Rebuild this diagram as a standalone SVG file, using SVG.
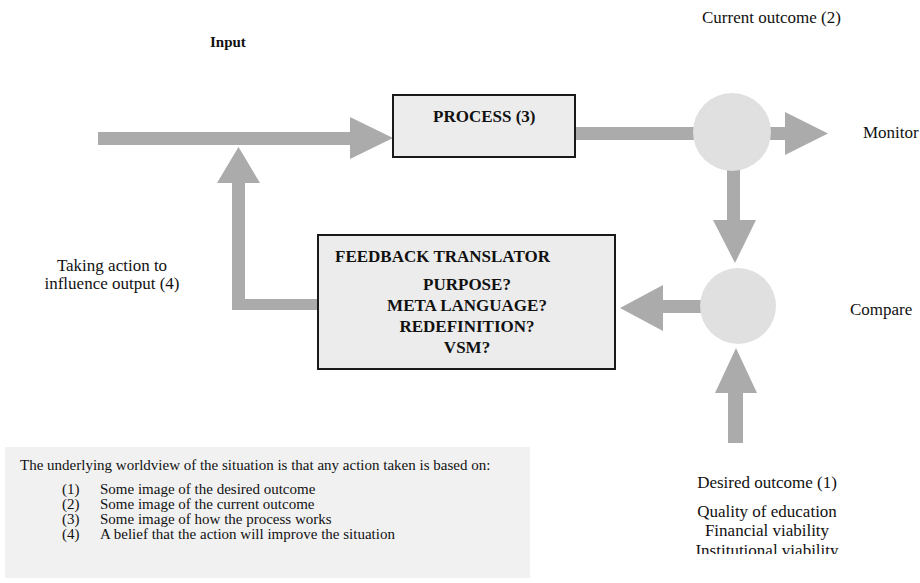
<svg xmlns="http://www.w3.org/2000/svg" width="920" height="583" viewBox="0 0 920 583">
<style>
text { font-family: "Liberation Serif", "Times New Roman", serif; fill: #111; }
.lbl { font-size: 17px; }
.bold { font-weight: bold; }
.note { font-size: 15px; }
.arrow { fill: #ababab; }
.circ { fill: #e0e0e0; }
.box { fill: #ececec; stroke: #1a1a1a; stroke-width: 2; }
</style>
<defs>
<clipPath id="cut"><rect x="600" y="400" width="320" height="154"/></clipPath>
</defs>
<rect x="0" y="0" width="920" height="583" fill="#ffffff"/>

<g id="connectors">
  <polygon class="arrow" points="98,132 350,132 350,117 393,138 350,159 350,145 98,145"/>
  <polygon class="arrow" points="318,299 245,299 245,183 260,183 238.5,147 217,183 232,183 232,310 318,310"/>
  <rect class="arrow" x="575" y="127" width="120" height="13"/>
  <polygon class="arrow" points="770,127 785,127 785,112 828,133.5 785,155 785,140 770,140"/>
  <polygon class="arrow" points="727,169 740,169 740,220 756,220 735,263 713,220 727,220"/>
  <polygon class="arrow" points="702,300 663,300 663,285 620,308 663,331 663,313 702,313"/>
  <polygon class="arrow" points="728,443 743,443 743,393 757,393 736,348 715,393 728,393"/>
</g>

<g id="process">
  <rect class="box" x="393" y="95" width="182" height="62"/>
  <text class="lbl bold" x="433" y="122">PROCESS (3)</text>
</g>

<g id="monitor">
  <circle class="circ" cx="732" cy="132" r="39"/>
</g>

<g id="compare">
  <circle class="circ" cx="738" cy="306" r="38"/>
</g>

<g id="feedback">
  <rect class="box" x="318" y="235" width="297" height="134"/>
  <text class="lbl bold" x="335" y="262">FEEDBACK TRANSLATOR</text>
  <g text-anchor="middle">
    <text class="lbl bold" x="467" y="290">PURPOSE?</text>
    <text class="lbl bold" x="467" y="311">META LANGUAGE?</text>
    <text class="lbl bold" x="467" y="332">REDEFINITION?</text>
    <text class="lbl bold" x="467" y="353">VSM?</text>
  </g>
</g>

<g id="labels">
  <text class="bold" x="210" y="47" font-size="15">Input</text>
  <text class="lbl" x="702" y="23">Current outcome (2)</text>
  <text class="lbl" x="863" y="138">Monitor</text>
  <text class="lbl" x="850" y="315">Compare</text>
  <g text-anchor="middle">
    <text class="lbl" x="112" y="271">Taking action to</text>
    <text class="lbl" x="112" y="289">influence output (4)</text>
  </g>
  <g text-anchor="middle">
    <text class="lbl" x="767" y="488">Desired outcome (1)</text>
    <text class="lbl" x="767" y="517">Quality of education</text>
    <text class="lbl" x="767" y="536">Financial viability</text>
    <text class="lbl" x="767" y="556" clip-path="url(#cut)">Institutional viability</text>
  </g>
</g>

<g id="worldview">
  <rect x="5" y="447" width="525" height="131" fill="#f1f1f1"/>
  <text class="note" x="20" y="470">The underlying worldview of the situation is that any action taken is based on:</text>
  <text class="note" x="62" y="494">(1)</text>
  <text class="note" x="100" y="494">Some image of the desired outcome</text>
  <text class="note" x="62" y="509">(2)</text>
  <text class="note" x="100" y="509">Some image of the current outcome</text>
  <text class="note" x="62" y="524">(3)</text>
  <text class="note" x="100" y="524">Some image of how the process works</text>
  <text class="note" x="62" y="539">(4)</text>
  <text class="note" x="100" y="539">A belief that the action will improve the situation</text>
</g>
</svg>
